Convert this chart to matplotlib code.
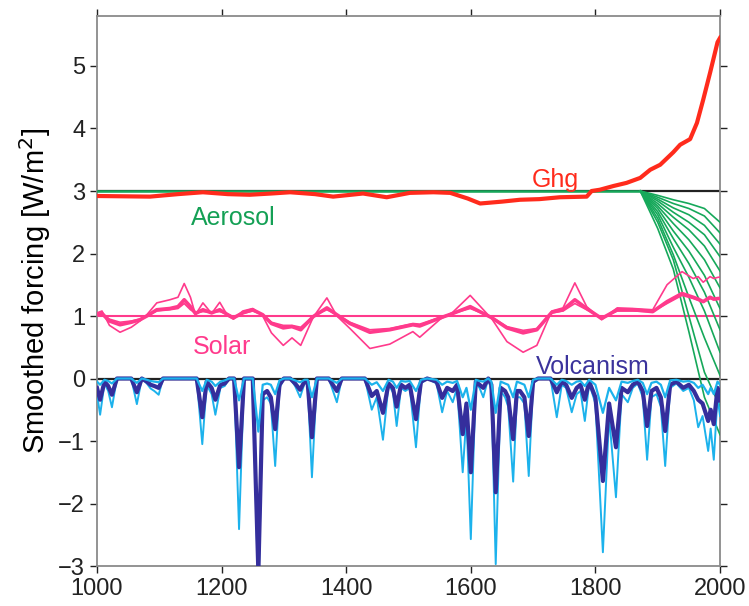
import matplotlib
matplotlib.use("Agg")
import matplotlib.pyplot as plt

# ---------------- data ----------------
ghg_years = [1000, 1085, 1130, 1170, 1210, 1245, 1280, 1310, 1350, 1379, 1427, 1465, 1502, 1540, 1567,
             1595, 1615, 1650, 1679, 1710, 1743, 1786, 1794, 1807, 1829, 1850, 1872, 1888, 1904, 1925,
             1936, 1952, 1963, 1973, 1984, 1996, 2000]
ghg_vals = [2.92, 2.91, 2.95, 2.98, 2.95, 2.94, 2.96, 2.98, 2.95, 2.91, 2.96, 2.90, 2.97, 2.98, 2.97,
            2.88, 2.80, 2.83, 2.86, 2.87, 2.90, 2.91, 3.00, 3.02, 3.08, 3.13, 3.21, 3.34, 3.42, 3.62,
            3.74, 3.83, 4.09, 4.46, 4.89, 5.38, 5.45]

aerosol_flat_years = [1000, 1872]
aerosol_flat_vals = [3.0, 3.0]
fan_years = [1872, 1900, 1925, 1950, 1975, 2000]
aerosol_fan = [
    [3.0, 2.93, 2.86, 2.80, 2.72, 2.50],
    [3.0, 2.90, 2.80, 2.72, 2.60, 2.33],
    [3.0, 2.87, 2.73, 2.62, 2.45, 2.15],
    [3.0, 2.84, 2.66, 2.50, 2.30, 1.95],
    [3.0, 2.80, 2.58, 2.38, 2.12, 1.72],
    [3.0, 2.76, 2.48, 2.22, 1.90, 1.45],
    [3.0, 2.72, 2.36, 2.04, 1.65, 1.12],
    [3.0, 2.67, 2.24, 1.84, 1.38, 0.78],
    [3.0, 2.62, 2.10, 1.62, 1.08, 0.42],
    [3.0, 2.56, 1.98, 1.30, 0.65, 0.05],
    [3.0, 2.50, 1.90, 1.00, 0.10, -0.45],
    [3.0, 2.40, 1.75, 0.75, -0.30, -0.90],
]

solar_years = [1000, 1008, 1020, 1037, 1055, 1069, 1080, 1096, 1117, 1130, 1140, 1150, 1158, 1170, 1184,
               1197, 1210, 1219, 1234, 1250, 1266, 1280, 1299, 1313, 1327, 1347, 1369, 1385, 1406, 1438,
               1470, 1507, 1518, 1551, 1571, 1599, 1634, 1658, 1684, 1706, 1730, 1748, 1767, 1786, 1810,
               1835, 1860, 1892, 1915, 1939, 1957, 1965, 1973, 1984, 1990, 1997, 2000]
solar_mid = [1.02, 1.04, 0.92, 0.86, 0.90, 0.94, 1.00, 1.10, 1.12, 1.15, 1.26, 1.15, 1.04, 1.10, 1.05,
             1.10, 1.02, 0.97, 1.05, 1.10, 1.02, 0.88, 0.81, 0.83, 0.78, 0.99, 1.13, 1.02, 0.88, 0.74,
             0.78, 0.86, 0.84, 0.97, 1.04, 1.15, 0.97, 0.81, 0.73, 0.78, 1.06, 1.10, 1.26, 1.12, 0.96,
             1.10, 1.10, 1.07, 1.23, 1.36, 1.30, 1.27, 1.23, 1.30, 1.27, 1.28, 1.28]
solar_wide = [1.05, 1.08, 0.85, 0.74, 0.82, 0.92, 1.02, 1.21, 1.26, 1.30, 1.52, 1.30, 1.02, 1.21, 1.04,
              1.22, 1.00, 0.95, 1.08, 1.12, 1.00, 0.73, 0.53, 0.65, 0.53, 0.98, 1.29, 1.00, 0.80, 0.48,
              0.55, 0.75, 0.66, 0.95, 1.06, 1.33, 0.95, 0.59, 0.42, 0.53, 1.08, 1.13, 1.53, 1.15, 0.94,
              1.13, 1.12, 1.10, 1.50, 1.71, 1.60, 1.63, 1.54, 1.63, 1.60, 1.62, 1.62]
solar_narrow = [1.03, 1.03, 0.95, 0.90, 0.92, 0.95, 1.00, 1.08, 1.10, 1.12, 1.20, 1.10, 1.05, 1.07, 1.06,
                1.07, 1.03, 0.98, 1.04, 1.08, 1.02, 0.90, 0.85, 0.85, 0.82, 1.00, 1.10, 1.02, 0.90, 0.78,
                0.80, 0.88, 0.87, 0.98, 1.04, 1.12, 0.98, 0.83, 0.77, 0.80, 1.05, 1.08, 1.20, 1.10, 0.97,
                1.08, 1.08, 1.07, 1.20, 1.33, 1.28, 1.25, 1.22, 1.28, 1.26, 1.27, 1.27]

volc_years = [1000, 1005, 1012, 1018, 1024, 1032, 1055, 1064, 1072, 1080, 1086, 1092, 1099, 1106,
              1160, 1169, 1176, 1184, 1190, 1198, 1205, 1212, 1220, 1228, 1236, 1250, 1259, 1266,
              1273, 1279, 1286, 1293, 1300, 1310, 1318, 1326, 1333, 1338, 1345, 1353, 1372, 1385,
              1393, 1430, 1441, 1449, 1459, 1468, 1475, 1481, 1488, 1495, 1502, 1512, 1520, 1530,
              1545, 1554, 1562, 1571, 1578, 1587, 1593, 1600, 1608, 1614, 1620, 1628, 1633, 1640,
              1648, 1655, 1660, 1668, 1674, 1679, 1686, 1693, 1700, 1708, 1728, 1738, 1746, 1753,
              1762, 1770, 1776, 1783, 1790, 1800, 1812, 1822, 1833, 1842, 1852, 1860, 1868, 1876,
              1883, 1890, 1898, 1905, 1912, 1920, 1930, 1941, 1950, 1958, 1965, 1972, 1981, 1985,
              1990, 1996, 2000]
volc_mid = [-0.15, -0.34, -0.05, -0.12, -0.26, 0.0, 0.0, -0.22, 0.0, -0.05, -0.10, -0.12, -0.15, 0.0,
            0.0, -0.62, -0.05, -0.15, -0.34, -0.10, -0.08, 0.0, 0.0, -1.42, 0.0, 0.0, -3.10, -0.25,
            -0.20, -0.30, -0.81, -0.10, 0.0, 0.0, -0.08, -0.18, -0.05, -0.05, -0.94, 0.0, 0.0, -0.20,
            0.0, 0.0, -0.28, -0.20, -0.55, -0.08, -0.15, -0.45, -0.10, -0.15, -0.10, -0.65, -0.05, 0.0,
            -0.05, -0.31, -0.15, -0.20, -0.10, -0.89, -0.40, -1.50, -0.05, -0.10, -0.15, 0.0, -0.10, -1.82,
            -0.15, -0.20, -0.30, -0.97, -0.20, -0.20, -0.30, -0.92, -0.05, 0.0, 0.0, -0.22, -0.05, -0.10,
            -0.31, -0.15, -0.10, -0.34, -0.05, -0.30, -1.64, -0.40, -1.10, -0.15, -0.22, -0.10, -0.05, -0.20,
            -0.76, -0.20, -0.15, -0.30, -0.84, -0.10, -0.05, -0.15, -0.10, -0.20, -0.34, -0.40, -0.68, -0.50,
            -0.73, -0.15, -0.35]
volc_deep = [-0.25, -0.58, -0.08, -0.20, -0.46, 0.0, 0.0, -0.41, 0.0, -0.08, -0.16, -0.20, -0.26, 0.0,
             0.0, -1.05, -0.10, -0.25, -0.58, -0.15, -0.12, 0.0, 0.0, -2.41, 0.0, 0.0, -3.50, -0.35,
             -0.30, -0.40, -1.40, -0.15, 0.0, 0.0, -0.12, -0.30, -0.08, -0.08, -1.58, 0.0, 0.0, -0.38,
             0.0, 0.0, -0.50, -0.30, -0.98, -0.10, -0.22, -0.76, -0.15, -0.20, -0.15, -1.10, -0.08, 0.0,
             -0.08, -0.54, -0.20, -0.38, -0.15, -1.50, -0.60, -2.57, -0.08, -0.15, -0.30, 0.0, -0.20, -2.97,
             -0.20, -0.30, -0.45, -1.65, -0.30, -0.30, -0.40, -1.56, -0.08, 0.0, 0.0, -0.62, -0.10, -0.15,
             -0.54, -0.25, -0.20, -0.68, -0.08, -0.40, -2.78, -0.60, -1.90, -0.25, -0.38, -0.15, -0.08, -0.30,
             -1.30, -0.30, -0.25, -0.45, -1.40, -0.15, -0.08, -0.20, -0.15, -0.35, -0.78, -0.60, -1.16, -0.80,
             -1.30, -0.30, -0.60]
volc_shallow = [-0.05, -0.10, -0.02, -0.04, -0.08, 0.0, 0.0, -0.07, 0.0, -0.02, -0.04, -0.05, -0.06, 0.0,
                0.0, -0.20, -0.02, -0.05, -0.12, -0.05, -0.03, 0.0, 0.0, -0.35, 0.0, 0.0, -0.85, -0.10,
                -0.08, -0.10, -0.25, -0.03, 0.0, 0.0, -0.03, -0.06, -0.02, -0.02, -0.30, 0.0, 0.0, -0.07,
                0.0, 0.0, -0.10, -0.06, -0.20, -0.02, -0.05, -0.15, -0.04, -0.05, -0.04, -0.20, -0.02, 0.0,
                -0.02, -0.10, -0.05, -0.07, -0.04, -0.30, -0.15, -0.50, -0.02, -0.04, -0.05, 0.0, -0.05, -0.55,
                -0.05, -0.08, -0.10, -0.30, -0.05, -0.07, -0.10, -0.30, -0.02, 0.0, 0.0, -0.10, -0.02, -0.04,
                -0.10, -0.05, -0.04, -0.12, -0.02, -0.10, -0.55, -0.15, -0.35, -0.05, -0.07, -0.04, -0.02, -0.07,
                -0.25, -0.07, -0.05, -0.10, -0.30, -0.03, -0.02, -0.05, -0.04, -0.07, -0.15, -0.10, -0.25, -0.15,
                -0.25, -0.05, -0.10]

x_ticks = [1000, 1200, 1400, 1600, 1800, 2000]
y_ticks = [-3, -2, -1, 0, 1, 2, 3, 4, 5]

# ---------------- style ----------------
RED = "#ff2b1c"
GREEN = "#16a85a"
PINK = "#ff3a8c"
DARKBLUE = "#352e9c"
LIGHTBLUE = "#1cb2ec"

plt.rcParams["font.family"] = ["Liberation Sans", "DejaVu Sans"]

fig = plt.figure(figsize=(7.49, 6.06), dpi=100)
ax = fig.add_axes([0.1295, 0.066, 0.8318, 0.9076])

# baselines
ax.axhline(3, color="#222222", lw=1.6, zorder=1)
ax.axhline(0, color="#222222", lw=1.6, zorder=1)
ax.axhline(1, color=PINK, lw=1.5, zorder=2)

# aerosol
ax.plot(aerosol_flat_years, aerosol_flat_vals, color=GREEN, lw=1.8, zorder=3)
for fan in aerosol_fan:
    ax.plot(fan_years, fan, color=GREEN, lw=1.2, zorder=3)

# ghg
ax.plot(ghg_years, ghg_vals, color=RED, lw=3.0, zorder=4, solid_joinstyle="round")

# solar
ax.plot(solar_years, solar_wide, color=PINK, lw=1.2, zorder=3)
ax.plot(solar_years, solar_narrow, color=PINK, lw=1.2, zorder=3)
ax.plot(solar_years, solar_mid, color=PINK, lw=2.6, zorder=3)

# volcanism
ax.plot(volc_years, volc_deep, color=LIGHTBLUE, lw=1.4, zorder=5)
ax.plot(volc_years, volc_mid, color=DARKBLUE, lw=3.0, zorder=6)
ax.plot(volc_years, volc_shallow, color=LIGHTBLUE, lw=1.6, zorder=7)

# labels
ax.text(1735, 3.17, "Ghg", color=RED, fontsize=18, ha="center", va="center")
ax.text(1218, 2.57, "Aerosol", color="#14a055", fontsize=18, ha="center", va="center")
ax.text(1200, 0.51, "Solar", color=PINK, fontsize=18, ha="center", va="center")
ax.text(1795, 0.18, "Volcanism", color="#3b339c", fontsize=18, ha="center", va="center")

ax.set_xlim(1000, 2000)
ax.set_ylim(-3, 5.8)
ax.set_xticks(x_ticks)
ax.set_yticks(y_ticks)
ax.set_yticklabels([str(v).replace("-", "\u2212") for v in y_ticks])
ax.tick_params(direction="out", length=5, width=1, colors="#222222", labelsize=17,
               top=True, right=True, labeltop=False, labelright=False)
for s in ax.spines.values():
    s.set_color("#8a8a8a")
    s.set_linewidth(1.3)
ax.set_ylabel("Smoothed forcing [W/m$^2$]", fontsize=21, labelpad=4)

fig.savefig("out.png", dpi=100)
